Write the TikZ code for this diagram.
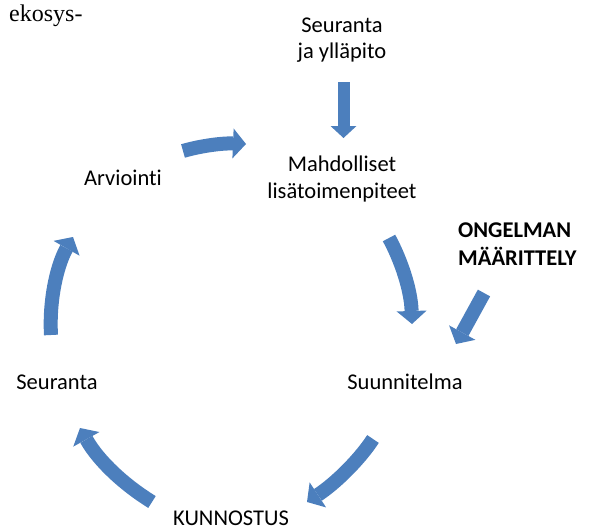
\documentclass[tikz,border=0pt]{standalone}
\usepackage{fontspec}
\setmainfont{Carlito}[Ligatures=NoCommon]
\newfontfamily\ekofont{Liberation Serif}
\usetikzlibrary{arrows.meta}

\definecolor{arrowblue}{RGB}{76,127,189}

\tikzset{
    phase/.style={font=\fontsize{22.5}{27}\selectfont, inner sep=0pt, align=center, text=black},
    cyclearrow/.style={draw=arrowblue, line width=14pt, -{Triangle[width=30pt,length=13pt,line width=0pt]}}
}

\begin{document}
\begin{tikzpicture}[
            x=1pt,
            y=1pt,
            yscale=-1,
            xscale=1
        ]
            \useasboundingbox (0,0) rectangle (590,530);

            % texts (base = last line)
            \node (eko) [anchor=base west, inner sep=0pt, font=\ekofont\fontsize{24}{28}\selectfont] at (9,21) {ekosys-};
            \node (yllapito) [phase, anchor=base] at (342,59) {Seuranta\\ja ylläpito};
            \node (lisatoim) [phase, anchor=base] at (342,198) {Mahdolliset\\lisätoimenpiteet};
            \node (arviointi) [phase, anchor=base] at (123,185) {Arviointi};
            \node (ongelma) [phase, anchor=base west, align=left, font=\bfseries\fontsize{22.5}{28}\selectfont] at (458,265) {ONGELMAN\\MÄÄRITTELY};
            \node (seuranta) [phase, anchor=base] at (57,389) {Seuranta};
            \node (suunnitelma) [phase, anchor=base] at (405,389) {Suunnitelma};
            \node (kunnostus) [phase, anchor=base] at (231,525) {KUNNOSTUS};

            % arrow ends
            \coordinate (yllS) at (343.5,82);
            \coordinate (yllE) at (343.5,138);
            \coordinate (arvS) at (183,151);
            \coordinate (arvE) at (246,144);
            \coordinate (lisS) at (389,238);
            \coordinate (lisE) at (412,324);
            \coordinate (ongS) at (484,293);
            \coordinate (ongE) at (456,344);
            \coordinate (suuS) at (373,439);
            \coordinate (suuE) at (307,502);
            \coordinate (kunS) at (152,502);
            \coordinate (kunE) at (80,428);
            \coordinate (seuS) at (51,335);
            \coordinate (seuE) at (73,237);

            \draw [cyclearrow, line width=12pt, -{Triangle[width=26pt,length=12pt,line width=0pt]}] (yllS) -- (yllE);
            \draw [cyclearrow] (arvS) .. controls (200,146) and (222,143) .. (arvE);
            \draw [cyclearrow] (lisS) .. controls (401,260) and (411,290) .. (lisE);
            \draw [cyclearrow] (ongS) -- (ongE);
            \draw [cyclearrow] (suuS) .. controls (360,459) and (336,483) .. (suuE);
            \draw [cyclearrow] (kunS) .. controls (126,486) and (99,462) .. (kunE);
            \draw [cyclearrow] (seuS) .. controls (49,300) and (57,265) .. (seuE);
        \end{tikzpicture}
\end{document}
